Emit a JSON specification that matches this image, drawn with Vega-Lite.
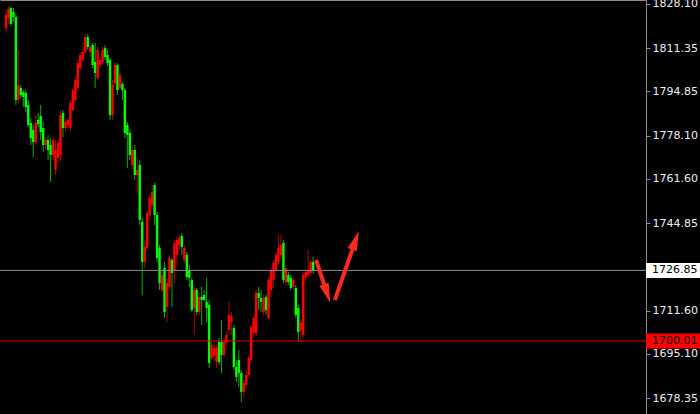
{
"$schema": "https://vega.github.io/schema/vega-lite/v6.json",
"width": 646, "height": 414, "padding": {"left": 0, "top": 0, "right": 54, "bottom": 0}, "autosize": {"type": "none"},
"background": "#000000",
"config": {"view": {"stroke": null}, "axis": {"grid": false}},
"datasets": {
"candles": [
{"i":0,"o":1818.98,"h":1825.82,"l":1817.08,"c":1823.92},
{"i":1,"o":1822.78,"h":1827.34,"l":1820.50,"c":1826.20},
{"i":2,"o":1826.58,"h":1826.96,"l":1819.74,"c":1820.50},
{"i":3,"o":1825.06,"h":1826.58,"l":1821.26,"c":1823.16},
{"i":4,"o":1823.16,"h":1824.30,"l":1789.72,"c":1791.62},
{"i":5,"o":1791.62,"h":1810.62,"l":1790.48,"c":1797.32},
{"i":6,"o":1796.18,"h":1797.32,"l":1792.38,"c":1793.52},
{"i":7,"o":1794.66,"h":1795.42,"l":1788.96,"c":1792.76},
{"i":8,"o":1794.28,"h":1795.42,"l":1787.06,"c":1788.96},
{"i":9,"o":1789.72,"h":1791.62,"l":1781.36,"c":1782.12},
{"i":10,"o":1782.88,"h":1784.78,"l":1774.52,"c":1777.18},
{"i":11,"o":1780.22,"h":1782.12,"l":1769.96,"c":1775.66},
{"i":12,"o":1775.66,"h":1785.92,"l":1774.52,"c":1782.88},
{"i":13,"o":1784.02,"h":1786.68,"l":1781.36,"c":1782.50},
{"i":14,"o":1785.54,"h":1789.72,"l":1776.42,"c":1779.46},
{"i":15,"o":1780.98,"h":1783.26,"l":1771.86,"c":1774.52},
{"i":16,"o":1774.52,"h":1777.56,"l":1772.62,"c":1776.42},
{"i":17,"o":1776.42,"h":1778.32,"l":1768.82,"c":1772.62},
{"i":18,"o":1774.52,"h":1777.18,"l":1760.46,"c":1770.72},
{"i":19,"o":1770.72,"h":1777.56,"l":1768.82,"c":1776.42},
{"i":20,"o":1765.02,"h":1776.42,"l":1763.12,"c":1772.62},
{"i":21,"o":1769.58,"h":1776.42,"l":1768.06,"c":1775.28},
{"i":22,"o":1770.72,"h":1787.82,"l":1768.06,"c":1785.92},
{"i":23,"o":1786.68,"h":1787.82,"l":1777.56,"c":1780.98},
{"i":24,"o":1780.98,"h":1784.78,"l":1779.46,"c":1783.26},
{"i":25,"o":1782.12,"h":1784.78,"l":1780.98,"c":1784.02},
{"i":26,"o":1780.98,"h":1791.62,"l":1780.22,"c":1790.48},
{"i":27,"o":1787.82,"h":1796.18,"l":1787.06,"c":1795.42},
{"i":28,"o":1791.62,"h":1800.74,"l":1790.48,"c":1799.22},
{"i":29,"o":1796.18,"h":1806.82,"l":1795.42,"c":1805.68},
{"i":30,"o":1803.78,"h":1809.86,"l":1803.02,"c":1808.72},
{"i":31,"o":1806.82,"h":1813.28,"l":1806.06,"c":1809.86},
{"i":32,"o":1809.86,"h":1816.70,"l":1809.10,"c":1815.56},
{"i":33,"o":1815.56,"h":1816.70,"l":1810.62,"c":1811.76},
{"i":34,"o":1809.86,"h":1812.52,"l":1808.34,"c":1811.76},
{"i":35,"o":1812.52,"h":1813.28,"l":1803.78,"c":1804.92},
{"i":36,"o":1806.06,"h":1813.28,"l":1796.18,"c":1801.88},
{"i":37,"o":1799.98,"h":1811.76,"l":1799.22,"c":1810.62},
{"i":38,"o":1804.92,"h":1807.58,"l":1803.78,"c":1806.82},
{"i":39,"o":1806.06,"h":1811.76,"l":1804.92,"c":1810.62},
{"i":40,"o":1811.38,"h":1812.52,"l":1806.82,"c":1807.96},
{"i":41,"o":1808.72,"h":1810.62,"l":1804.54,"c":1805.68},
{"i":42,"o":1806.82,"h":1807.58,"l":1784.02,"c":1785.92},
{"i":43,"o":1785.92,"h":1799.22,"l":1784.02,"c":1797.32},
{"i":44,"o":1798.08,"h":1806.06,"l":1797.32,"c":1804.92},
{"i":45,"o":1804.92,"h":1805.68,"l":1793.52,"c":1795.42},
{"i":46,"o":1796.18,"h":1802.26,"l":1795.42,"c":1801.12},
{"i":47,"o":1797.70,"h":1798.46,"l":1791.62,"c":1795.42},
{"i":48,"o":1795.42,"h":1796.18,"l":1777.18,"c":1779.08},
{"i":49,"o":1782.12,"h":1783.26,"l":1765.78,"c":1778.32},
{"i":50,"o":1779.08,"h":1780.22,"l":1768.82,"c":1770.72},
{"i":51,"o":1766.92,"h":1774.52,"l":1765.02,"c":1772.62},
{"i":52,"o":1772.62,"h":1774.52,"l":1761.22,"c":1763.12},
{"i":53,"o":1763.12,"h":1769.96,"l":1756.28,"c":1765.02},
{"i":54,"o":1766.92,"h":1768.82,"l":1744.12,"c":1746.02},
{"i":55,"o":1745.26,"h":1746.78,"l":1717.52,"c":1730.06},
{"i":56,"o":1730.06,"h":1738.42,"l":1727.78,"c":1735.76},
{"i":57,"o":1735.38,"h":1749.82,"l":1734.62,"c":1748.68},
{"i":58,"o":1747.92,"h":1755.52,"l":1746.02,"c":1754.38},
{"i":59,"o":1751.72,"h":1759.32,"l":1749.82,"c":1756.66},
{"i":60,"o":1759.32,"h":1760.08,"l":1744.12,"c":1747.92},
{"i":61,"o":1747.92,"h":1749.06,"l":1730.06,"c":1731.58},
{"i":62,"o":1735.38,"h":1736.52,"l":1719.42,"c":1722.08},
{"i":63,"o":1719.42,"h":1727.02,"l":1718.66,"c":1725.12},
{"i":64,"o":1727.78,"h":1730.06,"l":1708.78,"c":1711.06},
{"i":65,"o":1712.96,"h":1723.98,"l":1707.26,"c":1722.08},
{"i":66,"o":1720.56,"h":1732.72,"l":1719.42,"c":1731.58},
{"i":67,"o":1730.82,"h":1731.58,"l":1712.96,"c":1725.88},
{"i":68,"o":1727.02,"h":1738.42,"l":1722.08,"c":1737.28},
{"i":69,"o":1732.72,"h":1739.56,"l":1728.92,"c":1738.42},
{"i":70,"o":1736.52,"h":1740.32,"l":1734.62,"c":1739.18},
{"i":71,"o":1739.94,"h":1741.08,"l":1732.72,"c":1735.76},
{"i":72,"o":1730.82,"h":1736.52,"l":1729.68,"c":1735.38},
{"i":73,"o":1732.72,"h":1733.86,"l":1723.22,"c":1724.36},
{"i":74,"o":1727.02,"h":1728.92,"l":1720.56,"c":1723.98},
{"i":75,"o":1723.22,"h":1723.98,"l":1711.06,"c":1711.82},
{"i":76,"o":1712.58,"h":1720.56,"l":1702.32,"c":1719.42},
{"i":77,"o":1719.42,"h":1720.18,"l":1709.92,"c":1711.06},
{"i":78,"o":1711.06,"h":1718.66,"l":1709.92,"c":1716.76},
{"i":79,"o":1716.76,"h":1720.56,"l":1706.12,"c":1715.62},
{"i":80,"o":1717.52,"h":1719.42,"l":1714.86,"c":1715.62},
{"i":81,"o":1714.86,"h":1723.98,"l":1707.26,"c":1712.58},
{"i":82,"o":1713.72,"h":1715.62,"l":1689.78,"c":1691.68},
{"i":83,"o":1693.58,"h":1700.42,"l":1692.82,"c":1698.52},
{"i":84,"o":1694.34,"h":1699.28,"l":1692.82,"c":1697.38},
{"i":85,"o":1692.06,"h":1698.52,"l":1689.78,"c":1697.38},
{"i":86,"o":1699.66,"h":1701.18,"l":1690.92,"c":1692.06},
{"i":87,"o":1699.66,"h":1708.02,"l":1687.88,"c":1694.72},
{"i":88,"o":1694.72,"h":1701.18,"l":1693.58,"c":1699.66},
{"i":89,"o":1699.28,"h":1703.46,"l":1698.14,"c":1702.32},
{"i":90,"o":1704.22,"h":1714.86,"l":1703.08,"c":1709.92},
{"i":91,"o":1707.26,"h":1711.06,"l":1702.32,"c":1709.54},
{"i":92,"o":1704.98,"h":1706.12,"l":1689.02,"c":1690.16},
{"i":93,"o":1690.16,"h":1692.82,"l":1684.46,"c":1686.36},
{"i":94,"o":1692.82,"h":1696.62,"l":1682.56,"c":1687.88},
{"i":95,"o":1687.88,"h":1689.02,"l":1676.82,"c":1680.66},
{"i":96,"o":1680.66,"h":1685.22,"l":1678.34,"c":1684.08},
{"i":97,"o":1683.32,"h":1689.02,"l":1682.18,"c":1687.12},
{"i":98,"o":1687.12,"h":1694.72,"l":1686.36,"c":1693.58},
{"i":99,"o":1692.82,"h":1706.12,"l":1692.06,"c":1705.36},
{"i":100,"o":1703.08,"h":1709.92,"l":1701.94,"c":1708.78},
{"i":101,"o":1703.08,"h":1719.42,"l":1701.94,"c":1718.28},
{"i":102,"o":1718.28,"h":1720.56,"l":1711.82,"c":1716.38},
{"i":103,"o":1716.38,"h":1719.42,"l":1711.06,"c":1714.86},
{"i":104,"o":1711.06,"h":1717.52,"l":1709.92,"c":1716.38},
{"i":105,"o":1716.76,"h":1717.52,"l":1709.92,"c":1711.82},
{"i":106,"o":1708.78,"h":1724.36,"l":1708.02,"c":1723.22},
{"i":107,"o":1719.42,"h":1727.78,"l":1716.76,"c":1727.02},
{"i":108,"o":1723.22,"h":1730.82,"l":1720.18,"c":1729.68},
{"i":109,"o":1727.02,"h":1733.86,"l":1726.26,"c":1732.72},
{"i":110,"o":1730.06,"h":1740.32,"l":1728.92,"c":1735.38},
{"i":111,"o":1732.72,"h":1740.32,"l":1731.58,"c":1736.52},
{"i":112,"o":1737.28,"h":1738.42,"l":1722.08,"c":1723.22},
{"i":113,"o":1722.46,"h":1728.92,"l":1721.32,"c":1727.78},
{"i":114,"o":1725.12,"h":1726.26,"l":1721.32,"c":1722.46},
{"i":115,"o":1723.98,"h":1725.12,"l":1719.42,"c":1720.18},
{"i":116,"o":1720.56,"h":1724.36,"l":1719.42,"c":1723.22},
{"i":117,"o":1720.18,"h":1721.32,"l":1708.78,"c":1709.92},
{"i":118,"o":1712.58,"h":1713.72,"l":1699.66,"c":1703.46},
{"i":119,"o":1704.22,"h":1708.02,"l":1699.66,"c":1706.88},
{"i":120,"o":1702.32,"h":1726.26,"l":1701.18,"c":1725.12},
{"i":121,"o":1724.36,"h":1727.02,"l":1723.22,"c":1726.26},
{"i":122,"o":1725.12,"h":1734.62,"l":1723.98,"c":1727.02},
{"i":123,"o":1725.88,"h":1730.82,"l":1724.74,"c":1730.06},
{"i":124,"o":1730.06,"h":1731.94,"l":1725.48,"c":1726.85}
],
"levels": [{"name": "bid", "p": 1726.85}, {"name": "support", "p": 1700.01}],
"arrow1": [{"i": 125.2, "p": 1730.8}, {"i": 129.6, "p": 1718.1}],
"arrow2": [{"i": 132.75, "p": 1715.6}, {"i": 141.1, "p": 1738.2}],
"head1": [{"i": 129.65, "p": 1718.07}],
"head2": [{"i": 141.1, "p": 1738.21}]
},
"layer": [
{"data": {"name": "candles"},
 "mark": {"type": "rule", "strokeWidth": 1},
 "encoding": {
  "x": {"field": "i", "type": "quantitative", "scale": {"domain": [-0.397, 256.36], "nice": false, "zero": false}, "axis": {"orient": "top", "labels": false, "ticks": false, "grid": false, "domainColor": "#8a8a8a", "title": null}, "title": null},
  "y": {"field": "l", "type": "quantitative", "scale": {"domain": [1672.27, 1829.62], "nice": false, "zero": false}, "axis": {"orient": "right", "values": [1828.10, 1811.35, 1794.85, 1778.10, 1761.60, 1744.85, 1711.60, 1695.10, 1678.35], "format": ".2f", "grid": false, "domainColor": "#8a8a8a", "tickColor": "#8a8a8a", "tickSize": 4, "labelPadding": 2, "labelColor": "#eeeeee", "labelFont": "DejaVu Sans", "labelFontSize": 11, "labelOverlap": false, "labelFlush": false, "labelBound": false, "title": null}, "title": null},
  "y2": {"field": "h"},
  "color": {"condition": {"test": "datum.c >= datum.o", "value": "#b00000"}, "value": "#00b000"}
 }},
{"data": {"name": "candles"},
 "mark": {"type": "bar", "size": 2.4},
 "encoding": {
  "x": {"field": "i", "type": "quantitative", "scale": {"domain": [-0.397, 256.36], "nice": false, "zero": false}, "title": null},
  "y": {"field": "o", "type": "quantitative", "scale": {"domain": [1672.27, 1829.62], "nice": false, "zero": false}, "title": null},
  "y2": {"field": "c"},
  "color": {"condition": {"test": "datum.c >= datum.o", "value": "#ff0000"}, "value": "#00ff00"}
 }},
{"data": {"name": "levels"},
 "transform": [{"filter": "datum.name == 'bid'"}],
 "mark": {"type": "rule", "color": "#8c8c8c", "strokeWidth": 1},
 "encoding": {"y": {"field": "p", "type": "quantitative", "title": null}}},
{"data": {"name": "levels"},
 "transform": [{"filter": "datum.name == 'support'"}],
 "mark": {"type": "rule", "color": "#e00000", "strokeWidth": 1},
 "encoding": {"y": {"field": "p", "type": "quantitative", "title": null}}},
{"data": {"name": "arrow1"},
 "mark": {"type": "line", "color": "#ff2a1e", "strokeWidth": 4, "strokeCap": "butt"},
 "encoding": {"x": {"field": "i", "type": "quantitative", "title": null}, "y": {"field": "p", "type": "quantitative", "title": null}}},
{"data": {"name": "arrow2"},
 "mark": {"type": "line", "color": "#ff2a1e", "strokeWidth": 4, "strokeCap": "butt"},
 "encoding": {"x": {"field": "i", "type": "quantitative", "title": null}, "y": {"field": "p", "type": "quantitative", "title": null}}},
{"data": {"name": "head1"},
 "mark": {"type": "point", "shape": "M0,-1L0.5,1L-0.5,1Z", "filled": true, "size": 380, "angle": 161.6, "color": "#ff2a1e", "opacity": 1},
 "encoding": {"x": {"field": "i", "type": "quantitative", "title": null}, "y": {"field": "p", "type": "quantitative", "title": null}}},
{"data": {"name": "head2"},
 "mark": {"type": "point", "shape": "M0,-1L0.5,1L-0.5,1Z", "filled": true, "size": 380, "angle": 19.4, "color": "#ff2a1e", "opacity": 1},
 "encoding": {"x": {"field": "i", "type": "quantitative", "title": null}, "y": {"field": "p", "type": "quantitative", "title": null}}},
{"data": {"name": "levels"},
 "transform": [{"filter": "datum.name == 'bid'"}],
 "mark": {"type": "tick", "orient": "horizontal", "size": 54, "thickness": 15, "color": "#ffffff", "opacity": 1, "xOffset": 27},
 "encoding": {"x": {"value": "width"}, "y": {"field": "p", "type": "quantitative", "title": null}}},
{"data": {"name": "levels"},
 "transform": [{"filter": "datum.name == 'support'"}],
 "mark": {"type": "tick", "orient": "horizontal", "size": 54, "thickness": 15, "color": "#ff0000", "opacity": 1, "xOffset": 27},
 "encoding": {"x": {"value": "width"}, "y": {"field": "p", "type": "quantitative", "title": null}}},
{"data": {"name": "levels"},
 "mark": {"type": "text", "align": "left", "baseline": "middle", "dx": 6, "font": "DejaVu Sans", "fontSize": 11, "color": "#000000"},
 "encoding": {"x": {"value": "width"}, "y": {"field": "p", "type": "quantitative", "title": null}, "text": {"field": "p", "type": "quantitative", "format": ".2f"}}}
]
}
